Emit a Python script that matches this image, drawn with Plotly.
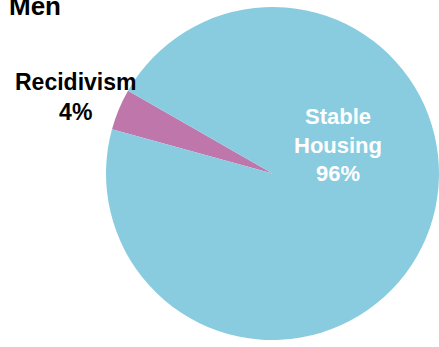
import plotly.graph_objects as go

# Outcome shares for men
labels = ["Recidivism", "Stable Housing"]
values = [4, 96]
colors = ["#BE76AB", "#89CCDF"]
title_text = "Men"

W, H = 439, 347
FONT = "Liberation Sans, Arial, sans-serif"

fig = go.Figure(
    go.Pie(
        labels=labels,
        values=values,
        sort=False,
        direction="clockwise",
        rotation=-74.6,
        marker=dict(colors=colors, line=dict(width=0)),
        textinfo="none",
        hoverinfo="label+percent",
        domain=dict(x=[106 / W, 1], y=[0, 1]),
        showlegend=False,
    )
)

total = sum(values)
pct = [f"{round(v / total * 100)}%" for v in values]

# Outside label for the small slice
fig.add_annotation(
    x=75.5 / W, y=1 - 97 / H, xref="paper", yref="paper",
    text=f"<b>{labels[0]}<br>{pct[0]}</b>",
    showarrow=False, xanchor="center", yanchor="middle",
    font=dict(family=FONT, size=23, color="#000000"),
)
# Inside label for the large slice
fig.add_annotation(
    x=338 / W, y=1 - 145.5 / H, xref="paper", yref="paper",
    text="<b>" + labels[1].replace(" ", "<br>") + f"<br>{pct[1]}</b>",
    showarrow=False, xanchor="center", yanchor="middle",
    font=dict(family=FONT, size=22, color="#FFFFFF"),
)
# Chart heading
fig.add_annotation(
    x=7 / W, y=1 - 23 / H, xref="paper", yref="paper",
    text=f"<b>{title_text}</b>",
    showarrow=False, xanchor="left", yanchor="bottom",
    font=dict(family=FONT, size=26, color="#000000"),
)

fig.update_layout(
    width=W, height=H,
    margin=dict(l=0, r=0, t=0, b=0),
    paper_bgcolor="#FFFFFF",
    plot_bgcolor="#FFFFFF",
)

fig.write_html("out.html")
